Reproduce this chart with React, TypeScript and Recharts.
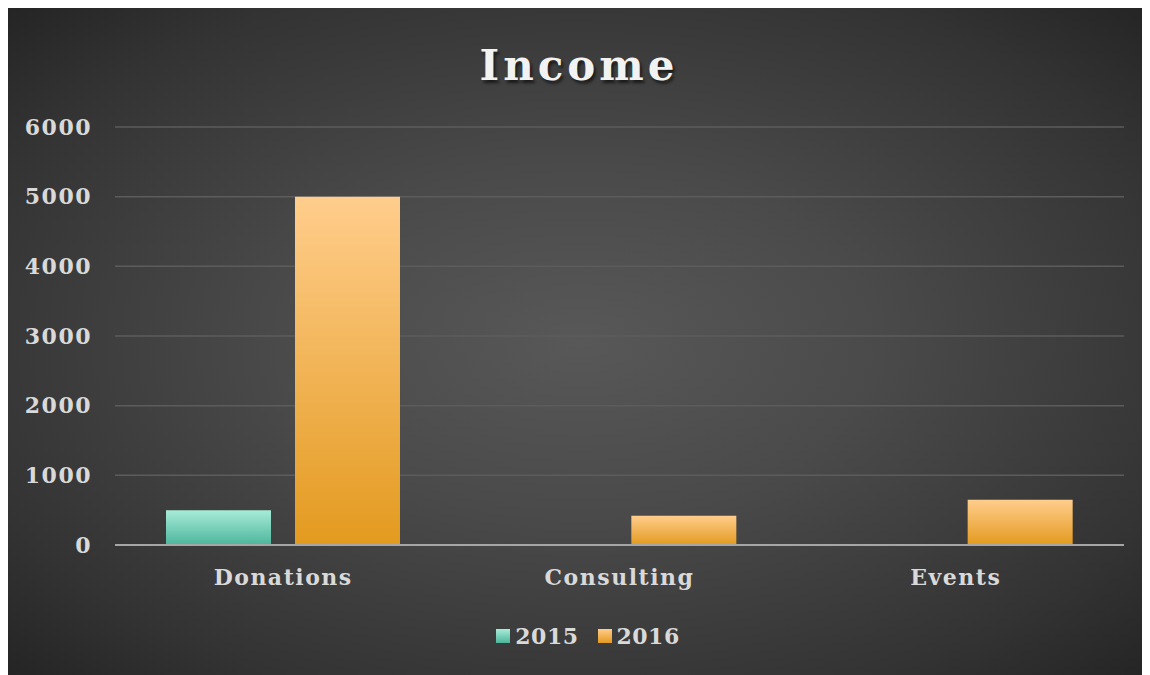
import React from 'react';
import { BarChart, Bar, XAxis, YAxis, CartesianGrid, Legend } from 'recharts';

const categories = ['Donations', 'Consulting', 'Events'];
const values2015 = [500, 0, 0];
const values2016 = [5000, 420, 650];
const yTicks = [0, 1000, 2000, 3000, 4000, 5000, 6000];

const data = categories.map((name, i) => ({ name, y2015: values2015[i], y2016: values2016[i] }));

const FONT = '"DejaVu Serif", serif';
const TEXT = '#d9d9d9';

const renderLegend = () => (
  <div style={{ display: 'flex', justifyContent: 'center', gap: 19, fontFamily: FONT, fontSize: 22, fontWeight: 600, letterSpacing: 0.5, color: TEXT, height: 26, lineHeight: '26px', paddingLeft: 46 }}>
    {[
      { label: '2015', a: '#a8ecd8', b: '#4db59c' },
      { label: '2016', a: '#ffcd8c', b: '#e39a1f' },
    ].map(it => (
      <div key={it.label} style={{ display: 'flex', alignItems: 'center', gap: 5 }}>
        <span style={{ width: 14, height: 14, display: 'inline-block', background: `linear-gradient(${it.a}, ${it.b})` }} />
        <span>{it.label}</span>
      </div>
    ))}
  </div>
);

const App = () => {
  return (
    <div
      style={{
        position: 'relative',
        width: 1146,
        height: 667,
        marginLeft: -2,
        background: 'radial-gradient(ellipse 75% 75% at 50% 50%, #585858 0%, #4a4a4a 35%, #333333 75%, #202020 100%)',
      }}
    >
      <div
        style={{
          position: 'absolute',
          top: 33,
          left: 0,
          width: '100%',
          textAlign: 'center',
          fontFamily: FONT,
          fontWeight: 700,
          fontSize: 42,
          letterSpacing: 4,
          color: '#f2f2f2',
          textShadow: '2px 3px 3px rgba(0,0,0,0.6)',
        }}
      >
        Income
      </div>
      <BarChart
        width={1146}
        height={667}
        data={data}
        margin={{ top: 119, right: 28, left: 0, bottom: 44 }}
        barGap={24}
        barSize={105}
      >
        <defs>
          <linearGradient id="g2015" x1="0" y1="0" x2="0" y2="1">
            <stop offset="0%" stopColor="#a8ecd8" />
            <stop offset="100%" stopColor="#4db59c" />
          </linearGradient>
          <linearGradient id="g2016" x1="0" y1="0" x2="0" y2="1">
            <stop offset="0%" stopColor="#ffcd8c" />
            <stop offset="100%" stopColor="#e39a1f" />
          </linearGradient>
        </defs>
        <CartesianGrid vertical={false} stroke="#5c5c5c" strokeWidth={1.5} />
        <XAxis
          dataKey="name"
          height={60}
          axisLine={{ stroke: '#a6a6a6', strokeWidth: 2 }}
          tickLine={false}
          tickSize={0}
          tickMargin={24}
          tick={{ fill: TEXT, fontFamily: FONT, fontSize: 22, fontWeight: 600, letterSpacing: 1.5 }}
        />
        <YAxis
          width={109}
          domain={[0, 6000]}
          ticks={yTicks}
          axisLine={false}
          tickLine={false}
          tickSize={0}
          tickMargin={23}
          tick={{ fill: TEXT, fontFamily: FONT, fontSize: 22, fontWeight: 600, letterSpacing: 1.5 }}
        />
        <Legend content={renderLegend} verticalAlign="bottom" wrapperStyle={{ bottom: 26 }} />
        <Bar dataKey="y2015" name="2015" fill="url(#g2015)" isAnimationActive={false} />
        <Bar dataKey="y2016" name="2016" fill="url(#g2016)" isAnimationActive={false} />
      </BarChart>
    </div>
  );
};

export default App;
